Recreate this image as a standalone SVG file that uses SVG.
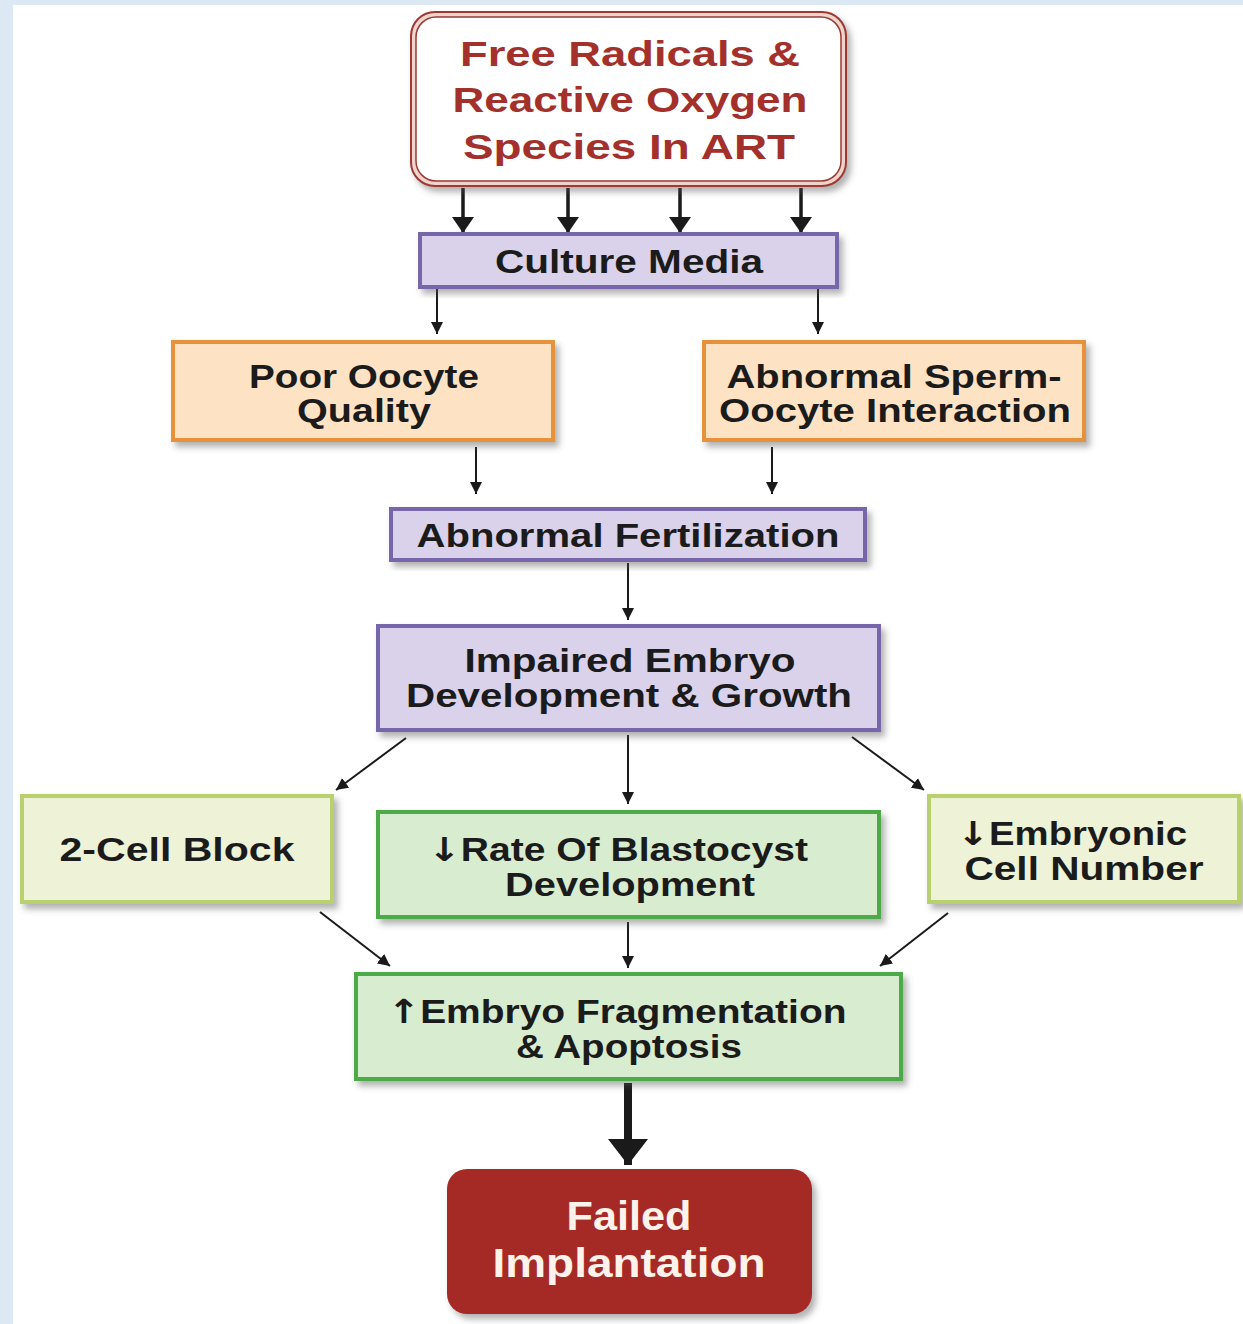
<svg xmlns="http://www.w3.org/2000/svg" width="1243" height="1324" viewBox="0 0 1243 1324">
<style>
text{font-family:"Liberation Sans",Arial,sans-serif;font-weight:bold;text-anchor:middle}
.t{font-size:33px;fill:#1b1b1b}
.r{font-size:35px;fill:#a3302b}
.w{font-size:40px;fill:#fdf3ea}
.arr{font-family:"DejaVu Sans",sans-serif;font-size:33px}
.purple{fill:#d9d2ea;stroke:#7866aa;stroke-width:4}
.orange{fill:#fde2c4;stroke:#e8913b;stroke-width:4}
.lgreen{fill:#eef2d6;stroke:#b8d06e;stroke-width:4}
.green{fill:#d8ecd0;stroke:#4eaa4a;stroke-width:4}
.c{stroke:#1a1a1a;fill:none}
.thin{stroke-width:2}
.thick{stroke-width:3.5}
.big{stroke-width:8}
</style>
<defs>
<filter id="sh" x="-10%" y="-10%" width="125%" height="130%">
<feDropShadow dx="4" dy="5" stdDeviation="3" flood-color="#555" flood-opacity="0.45"/>
</filter>
<marker id="as" viewBox="0 0 10 10" refX="10" refY="5" markerWidth="12" markerHeight="12" orient="auto" markerUnits="userSpaceOnUse"><path d="M0,0 L10,5 L0,10 z" fill="#1a1a1a"/></marker>
<marker id="am" viewBox="0 0 16 22" refX="16" refY="11" markerWidth="16" markerHeight="22" orient="auto" markerUnits="userSpaceOnUse"><path d="M0,0 L16,11 L0,22 z" fill="#1a1a1a"/></marker>
<marker id="ab" viewBox="0 0 26 40" refX="26" refY="20" markerWidth="26" markerHeight="40" orient="auto" markerUnits="userSpaceOnUse"><path d="M0,0 L26,20 L0,40 z" fill="#1a1a1a"/></marker>
</defs>
<rect x="0" y="0" width="1243" height="1324" fill="#dde8f5"/>
<rect x="13" y="5" width="1230" height="1319" fill="#ffffff"/>

<g id="connectors">
<line class="c thick" x1="463" y1="188" x2="463" y2="233" marker-end="url(#am)"/>
<line class="c thick" x1="568" y1="188" x2="568" y2="233" marker-end="url(#am)"/>
<line class="c thick" x1="680" y1="188" x2="680" y2="233" marker-end="url(#am)"/>
<line class="c thick" x1="801" y1="188" x2="801" y2="233" marker-end="url(#am)"/>
<line class="c thin" x1="437" y1="289" x2="437" y2="334" marker-end="url(#as)"/>
<line class="c thin" x1="818" y1="289" x2="818" y2="334" marker-end="url(#as)"/>
<line class="c thin" x1="476" y1="447" x2="476" y2="494" marker-end="url(#as)"/>
<line class="c thin" x1="772" y1="447" x2="772" y2="494" marker-end="url(#as)"/>
<line class="c thin" x1="628" y1="563" x2="628" y2="620" marker-end="url(#as)"/>
<line class="c thin" x1="406" y1="738" x2="336" y2="790" marker-end="url(#as)"/>
<line class="c thin" x1="628" y1="735" x2="628" y2="804" marker-end="url(#as)"/>
<line class="c thin" x1="852" y1="737" x2="924" y2="790" marker-end="url(#as)"/>
<line class="c thin" x1="320" y1="912" x2="390" y2="966" marker-end="url(#as)"/>
<line class="c thin" x1="628" y1="922" x2="628" y2="968" marker-end="url(#as)"/>
<line class="c thin" x1="948" y1="913" x2="880" y2="966" marker-end="url(#as)"/>
<line class="c big" x1="628" y1="1083" x2="628" y2="1165" marker-end="url(#ab)"/>
</g>

<g id="n-ros">
<rect x="411" y="12" width="435" height="174" rx="24" fill="#efd3cc" stroke="#9b3a33" stroke-width="2" filter="url(#sh)"/>
<rect x="416" y="17" width="425" height="164" rx="20" fill="#ffffff" stroke="#9b3a33" stroke-width="1.5"/>
<text class="r" x="630" y="66" textLength="340" lengthAdjust="spacingAndGlyphs">Free Radicals &amp;</text>
<text class="r" x="630" y="112" textLength="355" lengthAdjust="spacingAndGlyphs">Reactive Oxygen</text>
<text class="r" x="629" y="159" textLength="332" lengthAdjust="spacingAndGlyphs">Species In ART</text>
</g>

<g id="n-culture">
<rect class="purple" x="420" y="234" width="417" height="53" filter="url(#sh)"/>
<text class="t" x="629" y="273" textLength="268" lengthAdjust="spacingAndGlyphs">Culture Media</text>
</g>

<g id="n-oocyte">
<rect class="orange" x="173" y="342" width="380" height="98" filter="url(#sh)"/>
<text class="t" x="364" y="388" textLength="230" lengthAdjust="spacingAndGlyphs">Poor Oocyte</text>
<text class="t" x="364" y="422" textLength="134" lengthAdjust="spacingAndGlyphs">Quality</text>
</g>

<g id="n-sperm">
<rect class="orange" x="704" y="342" width="380" height="98" filter="url(#sh)"/>
<text class="t" x="894" y="388" textLength="335" lengthAdjust="spacingAndGlyphs">Abnormal Sperm-</text>
<text class="t" x="895" y="422" textLength="352" lengthAdjust="spacingAndGlyphs">Oocyte Interaction</text>
</g>

<g id="n-fert">
<rect class="purple" x="391" y="509" width="474" height="51" filter="url(#sh)"/>
<text class="t" x="628" y="547" textLength="423" lengthAdjust="spacingAndGlyphs">Abnormal Fertilization</text>
</g>

<g id="n-impaired">
<rect class="purple" x="378" y="626" width="501" height="104" filter="url(#sh)"/>
<text class="t" x="630" y="672" textLength="331" lengthAdjust="spacingAndGlyphs">Impaired Embryo</text>
<text class="t" x="629" y="707" textLength="446" lengthAdjust="spacingAndGlyphs">Development &amp; Growth</text>
</g>

<g id="n-2cell">
<rect class="lgreen" x="22" y="796" width="310" height="106" filter="url(#sh)"/>
<text class="t" x="177" y="861" textLength="235" lengthAdjust="spacingAndGlyphs">2-Cell Block</text>
</g>

<g id="n-blast">
<rect class="green" x="378" y="812" width="501" height="105" filter="url(#sh)"/>
<text class="t" x="618" y="861" textLength="380" lengthAdjust="spacingAndGlyphs"><tspan class="arr">↓</tspan>Rate Of Blastocyst</text>
<text class="t" x="630" y="896" textLength="250" lengthAdjust="spacingAndGlyphs">Development</text>
</g>

<g id="n-cellnum">
<rect class="lgreen" x="929" y="796" width="310" height="106" filter="url(#sh)"/>
<text class="t" x="1072" y="845" textLength="230" lengthAdjust="spacingAndGlyphs"><tspan class="arr">↓</tspan>Embryonic</text>
<text class="t" x="1084" y="880" textLength="239" lengthAdjust="spacingAndGlyphs">Cell Number</text>
</g>

<g id="n-frag">
<rect class="green" x="356" y="974" width="545" height="105" filter="url(#sh)"/>
<text class="t" x="617" y="1023" textLength="459" lengthAdjust="spacingAndGlyphs"><tspan class="arr">↑</tspan>Embryo Fragmentation</text>
<text class="t" x="629" y="1058" textLength="226" lengthAdjust="spacingAndGlyphs">&amp; Apoptosis</text>
</g>

<g id="n-failed">
<rect x="447" y="1169" width="365" height="145" rx="20" fill="#a52b27" filter="url(#sh)"/>
<text class="w" x="629" y="1230" textLength="125" lengthAdjust="spacingAndGlyphs">Failed</text>
<text class="w" x="629" y="1277" textLength="273" lengthAdjust="spacingAndGlyphs">Implantation</text>
</g>
</svg>
